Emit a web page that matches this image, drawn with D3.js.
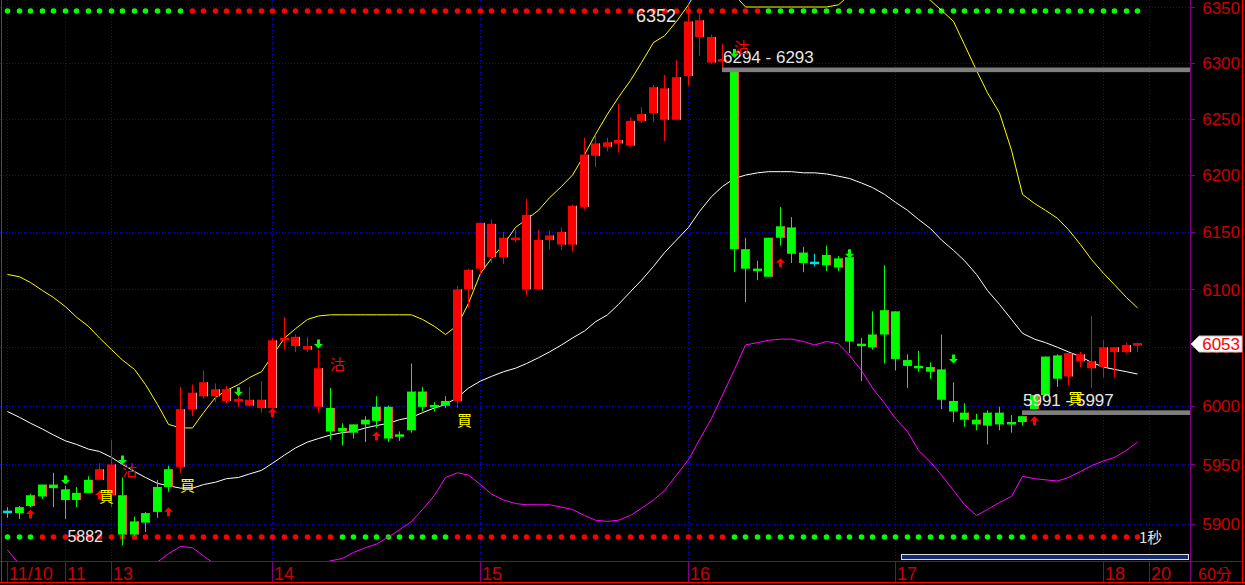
<!DOCTYPE html>
<html><head><meta charset="utf-8">
<script src="https://cdn.jsdelivr.net/npm/d3@7"></script>
<style>html,body{margin:0;padding:0;background:#000;overflow:hidden}svg{display:block}</style>
</head><body><svg id="c" width="1245" height="585"></svg>
<script>
// ---------- DATA ----------
const openP  = [5910,5914,5924,5933,5933,5929,5926,5937,5937,5924,5924,5902,5909,5931,5946,5948,5997,6008,6008,6004,6004,6000,5998,5998,6056,6051,6048,5999,5998,5981,5984,5988,5999,5999,5975,6012,6012,6000,6004,6004,6100,6118,6128,6128,6143,6100,6100,6143,6139,6139,6172,6217,6225,6228,6226,6248,6255,6249,6249,6288,6323,6300,6301,6293,6135,6118,6145,6155,6154,6132,6123,6130,6127,6128,6053,6061,6082,6081,6039,6034,6033,6031,6004,5994,5988,5994,5994,5986,5991,6009,6042,6043,6025,6038,6032,6033,6046,6046,6052];
const highP  = [5914,5915,5925,5933,5943,5932,5931,5940,5951,5971,5939,5906,5910,5937,5949,6016,6018,6030,6019,6017,6008,6016,6021,6058,6076,6061,6059,6048,6015,5985,5984,5991,6008,6000,5978,6036,6016,6003,6008,6103,6118,6158,6161,6150,6152,6179,6152,6151,6154,6174,6233,6235,6233,6263,6251,6260,6280,6289,6302,6352,6346,6325,6317,6293,6145,6125,6145,6172,6163,6137,6131,6138,6129,6134,6058,6081,6121,6081,6044,6047,6037,6061,6020,6002,5993,5996,5999,5992,5991,6009,6042,6044,6045,6046,6077,6056,6050,6054,6054];
const lowP   = [5905,5904,5914,5921,5914,5904,5914,5926,5937,5914,5882,5890,5893,5905,5927,5943,5991,6006,6003,6002,5999,6000,5994,5996,6048,6046,6046,5994,5971,5966,5972,5969,5981,5969,5970,5977,5995,5995,5998,5998,6084,6113,6123,6122,6141,6095,6100,6135,6134,6133,6170,6207,6221,6220,6225,6246,6247,6230,6249,6279,6306,6299,6294,6115,6089,6108,6111,6138,6123,6115,6120,6116,6116,6045,6021,6048,6036,6030,6015,6029,6023,5997,5986,5982,5979,5967,5979,5977,5983,5997,6008,6016,6017,6033,6015,6024,6024,6045,6046];
const closeP = [5910,5909,5915,5923,5930,5920,5920,5926,5946,5950,5891,5891,5901,5910,5931,5997,6011,6020,6014,6014,6005,6005,6005,6056,6058,6059,6051,6032,5978,5978,5977,5984,5987,5972,5974,5979,5999,5999,6000,6100,6117,6158,6157,6145,6145,6165,6143,6147,6150,6173,6218,6228,6229,6231,6248,6254,6278,6277,6287,6337,6338,6323,6303,6135,6118,6116,6111,6145,6131,6123,6123,6121,6119,6055,6051,6050,6061,6040,6034,6032,6029,6005,5995,5988,5984,5983,5984,5984,5986,5997,6009,6023,6045,6044,6038,6050,6050,6052,6053];

const upperBand = [6113,6111,6106,6099,6093,6085,6076,6068,6058,6048,6039,6031,6018,6001,5984,5981,5981,5994,6007,6013,6018,6024,6029,6043,6058,6066,6074,6077,6078,6078,6078,6078,6078,6078,6078,6078,6074,6068,6061,6069,6088,6114,6127,6139,6154,6161,6169,6180,6190,6200,6218,6236,6254,6269,6284,6300,6318,6324,6337,6352,6370,6379,6374,6361,6350,6350,6350,6350,6350,6350,6350,6350,6352,6361,6370,6374,6374,6372,6367,6362,6356,6347,6337,6316,6293,6273,6255,6222,6183,6175,6169,6162,6152,6139,6126,6114,6104,6093,6084];
const midBand   = [5995,5990,5985,5980,5975,5970,5967,5963,5961,5956,5950,5944,5939,5934,5932,5930,5930,5933,5935,5938,5939,5942,5945,5951,5958,5964,5969,5972,5975,5977,5978,5981,5983,5985,5988,5990,5994,5998,6001,6007,6015,6021,6025,6029,6032,6036,6041,6046,6052,6058,6064,6072,6078,6087,6098,6108,6120,6132,6143,6154,6168,6181,6190,6197,6200,6202,6203,6203,6203,6202,6202,6201,6199,6197,6193,6189,6183,6176,6169,6161,6153,6143,6134,6125,6113,6099,6087,6074,6062,6057,6054,6050,6046,6042,6037,6033,6031,6029,6027];
const lowerBand = [5878,5866,5857,5851,5846,5845,5845,5846,5851,5857,5860,5863,5866,5868,5875,5881,5880,5873,5866,5862,5858,5856,5855,5856,5857,5860,5863,5866,5869,5871,5876,5880,5883,5889,5895,5902,5912,5924,5939,5943,5941,5933,5925,5920,5917,5916,5916,5916,5914,5912,5907,5903,5902,5903,5907,5913,5920,5928,5941,5954,5971,5989,6009,6031,6052,6054,6056,6057,6057,6055,6052,6055,6053,6043,6030,6015,6002,5989,5978,5962,5952,5941,5928,5916,5907,5912,5918,5923,5940,5938,5937,5936,5939,5944,5949,5953,5956,5962,5969];

const topDotColors    = "ggggggggggggggggrrrrrrrrrrrrrrrrrrrrrrrrrrrrrrrrrrrrrrrrrrrrrrrrrrggggggggggggggggggggggggggggggggg".split("");
const bottomDotColors = "gggrrrrrrrrrrrrrrrrrrrrrrrrrrggggggggggrrrrrrrrrrrrrrrrrrrrrrrrggggggggggggggggggggggggggrrrrrrrrrr".split("");

const dayLabels = ["11/10","11","13","14","15","16","17","18","20"];
const dayStart  = [0,5,9,23,41,59,77,95,99];
const priceTicks = [5900,5950,6000,6050,6100,6150,6200,6250,6300,6350];

const buyArrowIdx = [2,8,14,23,32,67,89];
const buyArrowPrice = [5912,5928,5914,5998,5978,6127,5991];
const sellArrowIdx = [5,10,20,27,63,73,82];
const sellArrowPrice = [5933,5950,6008,6049,6304,6127,6036];
const buyTextIdx = [8,15,39,92];
const buyTextPrice = [5923,5932,5987,6006];
const sellTextIdx = [10,28,63];
const sellTextPrice = [5945,6035,6313];
const gapFrom = [62,88];
const gapLabels = [["6294","6293"],["5991","5997"]];
const gapPrice = [6293.5,5994];

// ---------- CHART ----------
const W=1245,H=585,plotR=1190,plotB=561;
const svg=d3.select('#c');
svg.append('rect').attr('width',W).attr('height',H).attr('fill','#000');
const n=openP.length;
const x=d3.scaleLinear().domain([0,99]).range([7,7+99*11.535]);
const y=d3.scaleLog().domain([5900,6350]).range([523.8,7]);
const X=i=>Math.round(x(i));
const lf='Liberation Sans, Arial, sans-serif';
const cjk='Noto Sans CJK TC, Noto Sans CJK SC, sans-serif';

svg.append('defs').append('clipPath').attr('id','pc').append('rect').attr('x',0).attr('y',0).attr('width',plotR).attr('height',plotB);

// grid
const grid=svg.append('g').attr('stroke','#0000ff').attr('stroke-dasharray','1,2').attr('stroke-width',1);
grid.selectAll('.h').data(priceTicks).join('line').attr('x1',0).attr('x2',plotR)
  .attr('y1',d=>Math.round(y(d))+0.5).attr('y2',d=>Math.round(y(d))+0.5);
grid.selectAll('.v').data(dayStart).join('line').attr('y1',0).attr('y2',plotB)
  .attr('x1',d=>X(d)+0.5).attr('x2',d=>X(d)+0.5);

const plot=svg.append('g').attr('clip-path','url(#pc)');

// dots
plot.append('g').selectAll('circle').data(topDotColors).join('circle')
  .attr('cx',(d,i)=>X(i)+0.5).attr('cy',11).attr('r',2.8).attr('fill',d=>d==='g'?'#00ff00':'#ff0000');
plot.append('g').selectAll('circle').data(bottomDotColors).join('circle')
  .attr('cx',(d,i)=>X(i)+0.5).attr('cy',537).attr('r',2.8).attr('fill',d=>d==='g'?'#00ff00':'#ff0000');

// bands
const line=d3.line().x((d,i)=>X(i)+0.5).y(d=>y(d));
[[upperBand,'#ffff00'],[midBand,'#ffffff'],[lowerBand,'#ff00ff']].forEach(([arr,c])=>{
  plot.append('path').datum(arr).attr('d',line).attr('fill','none').attr('stroke',c).attr('stroke-width',1);
});

// candles
const candles=d3.range(n).map(i=>({i,o:openP[i],h:highP[i],l:lowP[i],c:closeP[i]}));
const cg=plot.append('g');
candles.forEach(d=>{
  const cx=X(d.i);
  const flat=d.o===d.c, up=d.c>d.o;
  const col=flat?'#00e0e0':(up?'#ff0000':'#00ff00');
  const yh=y(d.h), yl=y(d.l);
  cg.append('rect').attr('x',cx).attr('y',yh).attr('width',1).attr('height',Math.max(1,yl-yh)).attr('fill',col);
  let top=y(Math.max(d.o,d.c)), bot=y(Math.min(d.o,d.c));
  if(bot-top<2.5){const m=(top+bot)/2; top=m-1.25; bot=m+1.25;}
  cg.append('rect').attr('x',cx-4).attr('y',top).attr('width',9).attr('height',bot-top).attr('fill',col);
  if(!flat && bot-top>3){
    cg.append('rect').attr('x',cx+4).attr('y',top).attr('width',1).attr('height',bot-top)
      .attr('fill',up?'#ff9a9a':'#ff4a4a');
  }
});

// gap lines + labels
gapFrom.forEach((gi,k)=>{
  const yy=y(gapPrice[k]);
  plot.append('rect').attr('x',X(gi)).attr('y',yy-2.3).attr('width',plotR-X(gi)).attr('height',4.6).attr('fill','#7f7f7f');
  plot.append('text').attr('x',X(gi)+1).attr('y',yy-7).attr('fill','#e6e6e6')
    .attr('font-family',lf).attr('font-size',17)
    .text(gapLabels[k][0]+' - '+gapLabels[k][1]);
});

// arrows
const upArrow=(cx,t)=>`M${cx},${t} L${cx+4.5},${t+4.5} L${cx+1.5},${t+4.5} L${cx+1.5},${t+9} L${cx-1.5},${t+9} L${cx-1.5},${t+4.5} L${cx-4.5},${t+4.5} Z`;
const dnArrow=(cx,b)=>`M${cx},${b} L${cx+4.5},${b-4.5} L${cx+1.5},${b-4.5} L${cx+1.5},${b-9} L${cx-1.5},${b-9} L${cx-1.5},${b-4.5} L${cx-4.5},${b-4.5} Z`;
buyArrowIdx.forEach((ai,k)=>plot.append('path').attr('d',upArrow(X(ai)+0.5,y(buyArrowPrice[k]))).attr('fill','#ff0000'));
sellArrowIdx.forEach((ai,k)=>plot.append('path').attr('d',dnArrow(X(ai)+0.5,y(sellArrowPrice[k]))).attr('fill','#00ff00'));

// signal texts
buyTextIdx.forEach((ti,k)=>plot.append('text').attr('x',X(ti)).attr('y',y(buyTextPrice[k])).attr('dy','0.36em')
  .attr('fill','#ffff00').attr('font-family',cjk).attr('font-size',15).text('買'));
sellTextIdx.forEach((ti,k)=>plot.append('text').attr('x',X(ti)).attr('y',y(sellTextPrice[k])).attr('dy','0.36em')
  .attr('fill','#ff0000').attr('font-family',cjk).attr('font-size',15).text('沽'));

// high / low labels
const hiI=d3.maxIndex(highP), loI=d3.minIndex(lowP);
plot.append('text').attr('x',X(hiI)-12).attr('y',22).attr('text-anchor','end').attr('fill','#e6e6e6')
  .attr('font-family',lf).attr('font-size',18).text(highP[hiI]);
plot.append('text').attr('x',X(loI)-19).attr('y',542).attr('text-anchor','end').attr('fill','#e6e6e6')
  .attr('font-family',lf).attr('font-size',16).text(lowP[loI]);
svg.append('text').attr('x',1139).attr('y',543).attr('fill','#e6e6e6')
  .attr('font-family',cjk).attr('font-size',15).text('1秒');

// scroll bar
svg.append('rect').attr('x',901.5).attr('y',554.5).attr('width',287).attr('height',5).attr('fill','#142a6e').attr('stroke','#e0e0e0').attr('stroke-width',1);

// frame
svg.append('line').attr('x1',0).attr('x2',1243).attr('y1',561.5).attr('y2',561.5).attr('stroke','#800080');
svg.append('line').attr('x1',1190.5).attr('x2',1190.5).attr('y1',0).attr('y2',583).attr('stroke','#800080');
svg.selectAll('.sep').data(dayStart).join('line').attr('x1',d=>X(d)+0.5).attr('x2',d=>X(d)+0.5)
  .attr('y1',562).attr('y2',582).attr('stroke','#800080');
svg.append('line').attr('x1',1.5).attr('x2',1.5).attr('y1',0).attr('y2',583).attr('stroke','#ff0000');
svg.append('line').attr('x1',1242.5).attr('x2',1242.5).attr('y1',0).attr('y2',583).attr('stroke','#ff0000');
svg.append('line').attr('x1',0).attr('x2',1245).attr('y1',582.5).attr('y2',582.5).attr('stroke','#ff0000');
svg.selectAll('.yt').data(priceTicks).join('line').attr('x1',1191).attr('x2',1195)
  .attr('y1',d=>Math.round(y(d))+0.5).attr('y2',d=>Math.round(y(d))+0.5).attr('stroke','#800080');

// axis labels
svg.selectAll('.yl').data(priceTicks).join('text').attr('x',1240).attr('y',d=>Math.max(y(d),8)).attr('dy','0.36em')
  .attr('text-anchor','end').attr('fill','#cc0000').attr('font-family',lf).attr('font-size',17).text(d=>d);
svg.selectAll('.xl').data(dayLabels).join('text').attr('x',(d,i)=>X(dayStart[i])+2).attr('y',580)
  .attr('fill','#cc0000').attr('font-family',lf).attr('font-size',18).text(d=>d);
svg.append('text').attr('x',1198).attr('y',580).attr('fill','#cc0000').attr('font-family',cjk).attr('font-size',16).text('60分');

// last price tag
const last=closeP[n-1], ly=Math.round(y(last));
svg.append('path').attr('d',`M1191,${ly} L1199,${ly-8} L1242,${ly-8} L1242,${ly+8} L1199,${ly+8} Z`)
  .attr('fill','#ffffff').attr('stroke','#c0c0c0');
svg.append('text').attr('x',1240).attr('y',ly).attr('dy','0.36em').attr('text-anchor','end')
  .attr('fill','#ff0000').attr('font-family',lf).attr('font-size',17).text(last);
</script></body></html>
